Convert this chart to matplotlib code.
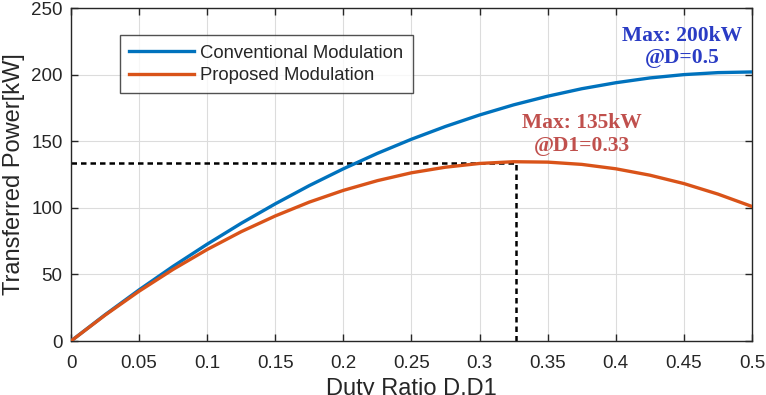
import matplotlib
matplotlib.use("Agg")
import matplotlib.pyplot as plt

# ------------ données ------------
duty = [0, 0.025, 0.05, 0.075, 0.1, 0.125, 0.15, 0.175, 0.2, 0.225, 0.25,
        0.275, 0.3, 0.325, 0.35, 0.375, 0.4, 0.425, 0.45, 0.475, 0.5]
p_conv = [0, 19.7, 38.4, 56.1, 72.7, 88.4, 103.0, 116.7, 129.3, 140.9, 151.5,
          161.1, 169.7, 177.3, 183.8, 189.4, 193.9, 197.5, 200.0, 201.5, 202.0]
p_prop = [0, 19.4, 37.4, 53.8, 68.7, 82.1, 93.9, 104.3, 113.1, 120.4, 126.3,
          130.5, 133.3, 134.6, 134.3, 132.6, 129.3, 124.5, 118.2, 110.3, 101.0]
d_max_prop = 0.327
p_max_prop = 134.0
x_ticks = [0, 0.05, 0.1, 0.15, 0.2, 0.25, 0.3, 0.35, 0.4, 0.45, 0.5]
x_tick_labels = ["0", "0.05", "0.1", "0.15", "0.2", "0.25", "0.3", "0.35", "0.4", "0.45", "0.5"]
y_ticks = [0, 50, 100, 150, 200, 250]
# -----------------------------------------------------

BLEU = "#0072BD"
ORANGE = "#D95319"
GRIS = "#262626"

plt.rcParams["font.family"] = ["Liberation Sans", "DejaVu Sans"]

fig = plt.figure(figsize=(7.66, 3.95), dpi=100)
ax = fig.add_axes([0.0927, 0.1367, 0.889, 0.843])

ax.plot(duty, p_conv, color=BLEU, lw=2.4, label="Conventional Modulation", zorder=3)
ax.plot(duty, p_prop, color=ORANGE, lw=2.4, label="Proposed Modulation", zorder=3)

# repères du maximum
ax.plot([0, d_max_prop], [p_max_prop, p_max_prop], color="black", lw=1.8,
        ls=(0, (2.2, 1.6)), zorder=2)
ax.plot([d_max_prop, d_max_prop], [0, p_max_prop], color="black", lw=1.8,
        ls=(0, (2.2, 1.6)), zorder=2)

ax.text(0.449, 221, "Max: 200kW\n@D=0.5", color="#2a3cc4", ha="center", va="center",
        fontsize=15.5, fontweight="bold", family="Liberation Serif", linespacing=1.15)
ax.text(0.375, 155, "Max: 135kW\n@D1=0.33", color="#c0504d", ha="center", va="center",
        fontsize=15.5, fontweight="bold", family="Liberation Serif", linespacing=1.15)

ax.set_xlim(0, 0.5)
ax.set_ylim(0, 250)
ax.set_xticks(x_ticks)
ax.set_xticklabels(x_tick_labels)
ax.set_yticks(y_ticks)
ax.grid(True, color="#dcdcdc", lw=0.8)
ax.set_axisbelow(True)
ax.tick_params(direction="in", top=True, right=True, length=5, width=1,
               colors=GRIS, labelsize=13.5)
ax.tick_params(axis="x", pad=10)
ax.tick_params(axis="y", pad=6)
for s in ax.spines.values():
    s.set_color(GRIS)
    s.set_linewidth(1)

ax.set_xlabel("Duty Ratio D,D1", fontsize=17, color=GRIS)
ax.set_ylabel("Transferred Power[kW]", fontsize=17, color=GRIS)
ax.xaxis.set_label_coords(0.5, -0.11)
ax.yaxis.set_label_coords(-0.068, 0.5)

leg = ax.legend(loc="upper left", bbox_to_anchor=(0.072, 0.918), fontsize=13.3,
                frameon=True, fancybox=False, borderpad=0.5, handlelength=3.5,
                labelspacing=0.3, handletextpad=0.35, borderaxespad=0)
leg.get_frame().set_edgecolor(GRIS)
leg.get_frame().set_linewidth(1)
for t in leg.get_texts():
    t.set_color(GRIS)

fig.savefig("out.png", dpi=100)
